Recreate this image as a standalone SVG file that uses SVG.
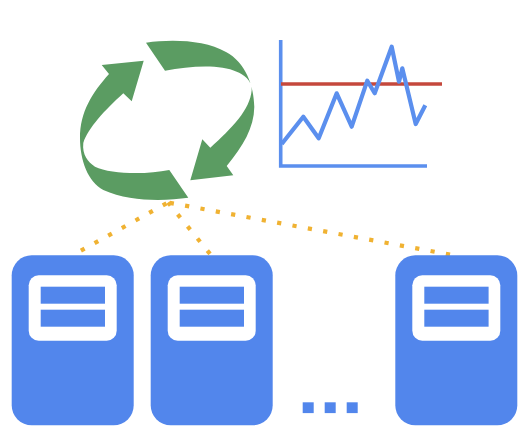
<svg xmlns="http://www.w3.org/2000/svg" width="524" height="433" viewBox="0 0 524 433">
<style>
.body{fill:#5286ec}
.win{fill:#fff}
.arrow{fill:#5b9c62}
.dot{fill:none;stroke:#f0b232;stroke-width:4.2;stroke-dasharray:4.2 11.4}
.axis{fill:none;stroke:#5b8fee;stroke-width:3.6}
.trend{fill:none;stroke:#5b8fee;stroke-width:4.2;stroke-linejoin:round}
</style>
<rect width="524" height="433" fill="#fff"/>
<defs>
<g id="server">
<rect class="body" x="0" y="0" width="122" height="170" rx="20"/>
<rect class="win" x="17" y="20" width="88" height="65.4" rx="10"/>
<rect class="body" x="29" y="31.4" width="64.3" height="17"/>
<rect class="body" x="29" y="54.4" width="64.3" height="17"/>
</g>
</defs>
<g id="connectors">
<path class="dot" d="M80.9 250.7L168 202.5"/>
<path class="dot" d="M210 253.8L168 202.5"/>
<path class="dot" d="M450 254.6L168 202.5"/>
</g>
<g id="cycle-arrow-1"><path class="arrow" d="M146 42.7C172 39 205 40 226 52C245 62 254 85 254.3 107C254 128 243 146 226.7 166L233.3 175.3L190.3 180.3L202.3 139.3L210.3 147.7C232 128 250 110 251.7 90C252 80 243 74 236.7 71.7C220 64 190 66 165 70.7Z"/></g>
<g id="cycle-arrow-2"><path class="arrow" d="M188.3 197.7C165 201 130 202 103.3 190C88 182 80 160 80 138C80 112 92 93 109 74L101.7 65L143.7 60.7L131.7 101.3L123.3 93.3C105 110 88 128 83.3 143C82 155 88 162 95 166.7C110 174 145 175 169.3 170Z"/></g>
<g id="chart">
<path class="axis" d="M280.7 40V166H427"/>
<path fill="none" stroke="#c5483c" stroke-width="3.4" d="M281 84H442"/>
<path class="trend" d="M281.7 144L303.3 116.7L318.7 138.3L336.7 93.3L351.7 126.7L367.3 80.7L374.7 93.3L391.7 46.7L399 81.7L402.3 68.3L415.7 124L425.3 105.3"/>
</g>
<g id="server-1" transform="translate(11.7 255.3)"><use href="#server"/></g>
<g id="server-2" transform="translate(150.7 255.3)"><use href="#server"/></g>
<g id="server-3" transform="translate(395.3 255.3)"><use href="#server"/></g>
<g id="ellipsis" class="body">
<rect x="302.7" y="402.3" width="11" height="10.8"/>
<rect x="324.7" y="402.3" width="11" height="10.8"/>
<rect x="346.7" y="402.3" width="11" height="10.8"/>
</g>
</svg>
